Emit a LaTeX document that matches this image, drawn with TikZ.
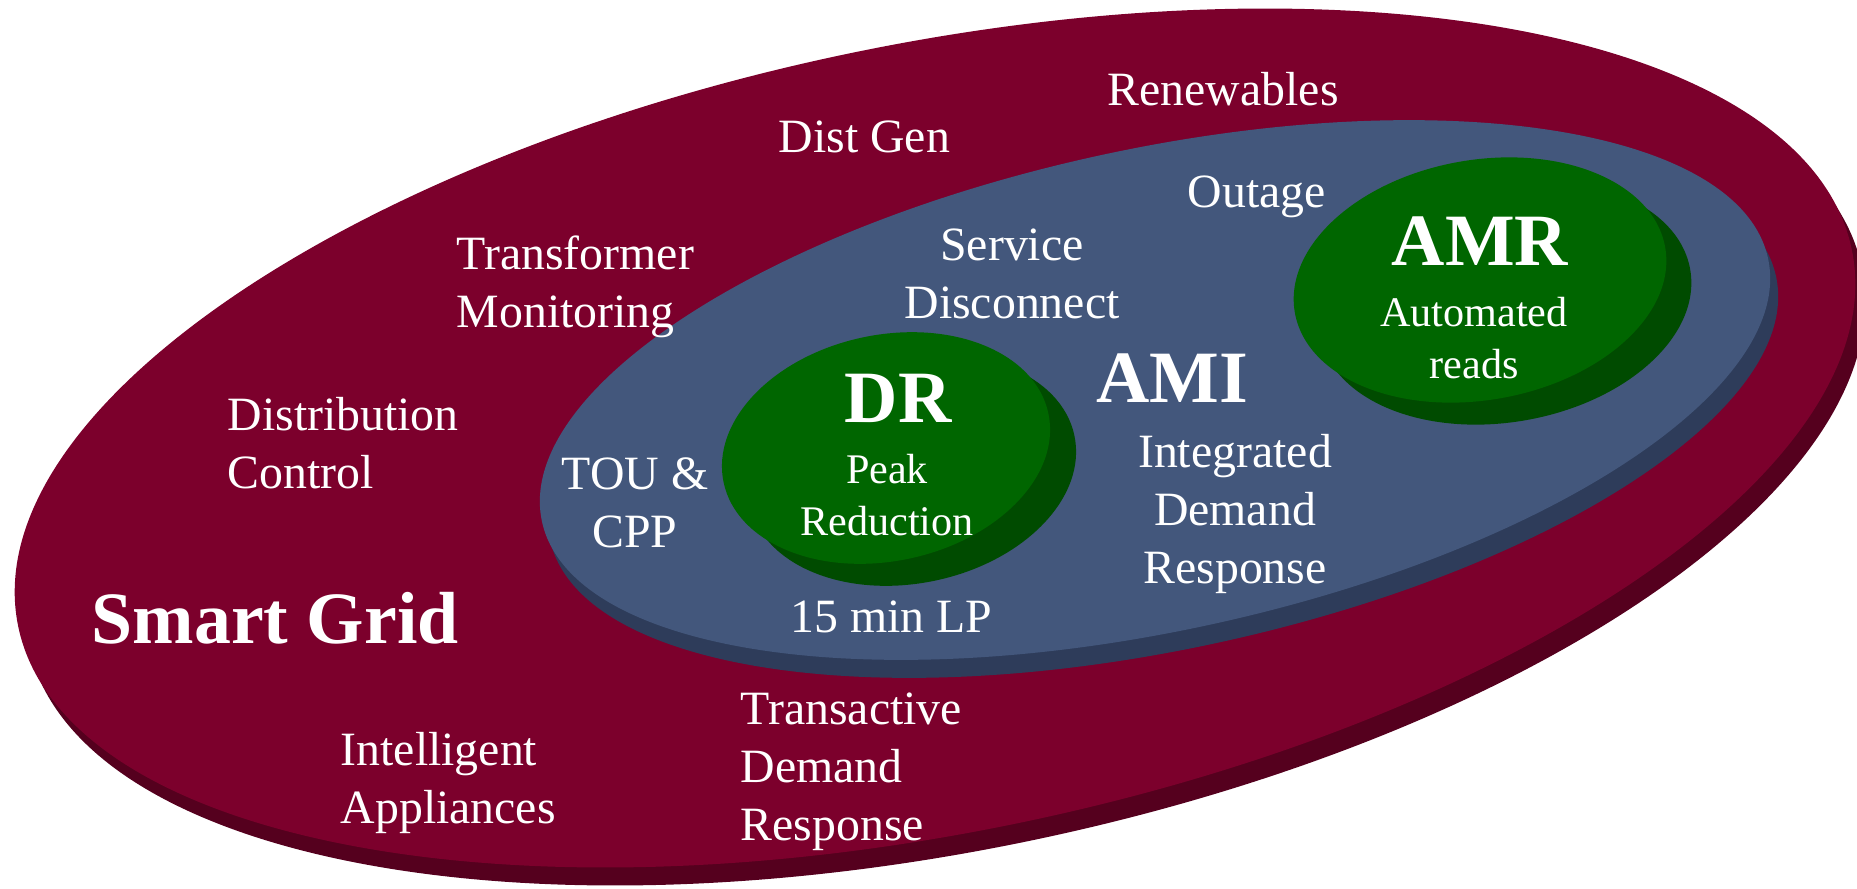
\documentclass[tikz,border=0pt]{standalone}
\usepackage{fontspec}
\setmainfont{Liberation Serif}
\usepackage{tikz}
\usetikzlibrary{calc}

\definecolor{gridtop}{HTML}{7C002C}
\definecolor{gridside}{HTML}{55001E}
\definecolor{amitop}{HTML}{43577C}
\definecolor{amiside}{HTML}{2E3C5A}
\definecolor{greentop}{HTML}{006600}
\definecolor{greenside}{HTML}{004B00}

\begin{document}
\begin{tikzpicture}[
    lbl/.style={text=white, inner sep=0pt, font=\fontsize{13.6}{16.4}\selectfont},
    bigtitle/.style={text=white, inner sep=0pt, font=\fontsize{21}{24}\selectfont\bfseries},
    small/.style={text=white, inner sep=0pt, align=center, font=\fontsize{12}{14.7}\selectfont}
]
    \useasboundingbox (0, 0) rectangle (18.57, 8.88);

    % Centres of the discs
    \coordinate (sg) at (9.35, 4.50);
    \coordinate (ami) at (11.55, 4.98);
    \coordinate (dr) at (8.86, 4.40);
    \coordinate (amr) at (14.80, 6.08);

    % Smart Grid disc
    \fill[gridside] ($(sg) + (0.10, -0.18)$) ellipse [x radius=9.36, y radius=3.94, rotate=11.6];
    \fill[gridtop] (sg) ellipse [x radius=9.36, y radius=3.94, rotate=11.6];

    % AMI disc
    \fill[amiside] ($(ami) + (0.08, -0.18)$) ellipse [x radius=6.27, y radius=2.41, rotate=12.1];
    \fill[amitop] (ami) ellipse [x radius=6.27, y radius=2.41, rotate=12.1];

    % DR disc
    \fill[greenside] ($(dr) + (0.26, -0.22)$) ellipse [x radius=1.66, y radius=1.13, rotate=12];
    \fill[greentop] (dr) ellipse [x radius=1.66, y radius=1.13, rotate=12];

    % AMR disc
    \fill[greenside] ($(amr) + (0.25, -0.22)$) ellipse [x radius=1.88, y radius=1.20, rotate=10];
    \fill[greentop] (amr) ellipse [x radius=1.88, y radius=1.20, rotate=10];

    % Titles
    \node[bigtitle, anchor=base west] (smartgrid) at (0.91, 2.45) {Smart Grid};
    \node[bigtitle, anchor=base] (amilbl) at (11.72, 4.86) {AMI};
    \node[bigtitle, anchor=base] (drlbl) at (8.98, 4.66) {DR};
    \node[bigtitle, anchor=base] (amrlbl) at (14.80, 6.23) {AMR};

    % Inner labels (base = last line)
    \node[small, anchor=base] (peak) at (8.87, 3.53) {Peak\\Reduction};
    \node[small, anchor=base] (reads) at (14.74, 5.10) {Automated\\reads};

    % AMI labels
    \node[lbl, anchor=base west] (outage) at (11.87, 6.81) {Outage};
    \node[lbl, align=center, anchor=base] (service) at (10.12, 5.70) {Service\\Disconnect};
    \node[lbl, align=center, anchor=base] (tou) at (6.35, 3.41) {TOU \&\\CPP};
    \node[lbl, align=center, anchor=base] (idr) at (12.35, 3.05) {Integrated\\Demand\\Response};
    \node[lbl, anchor=base west] (lp) at (7.90, 2.56) {15 min LP};

    % Smart Grid labels
    \node[lbl, anchor=base west] (renew) at (11.07, 7.83) {Renewables};
    \node[lbl, anchor=base west] (distgen) at (7.78, 7.36) {Dist Gen};
    \node[lbl, align=left, anchor=base west] (transformer) at (4.56, 5.61) {Transformer\\Monitoring};
    \node[lbl, align=left, anchor=base west] (distctrl) at (2.27, 4.00) {Distribution\\Control};
    \node[lbl, align=left, anchor=base west] (tdr) at (7.40, 0.48) {Transactive\\Demand\\Response};
    \node[lbl, align=left, anchor=base west] (appl) at (3.40, 0.65) {Intelligent\\Appliances};
\end{tikzpicture}
\end{document}
